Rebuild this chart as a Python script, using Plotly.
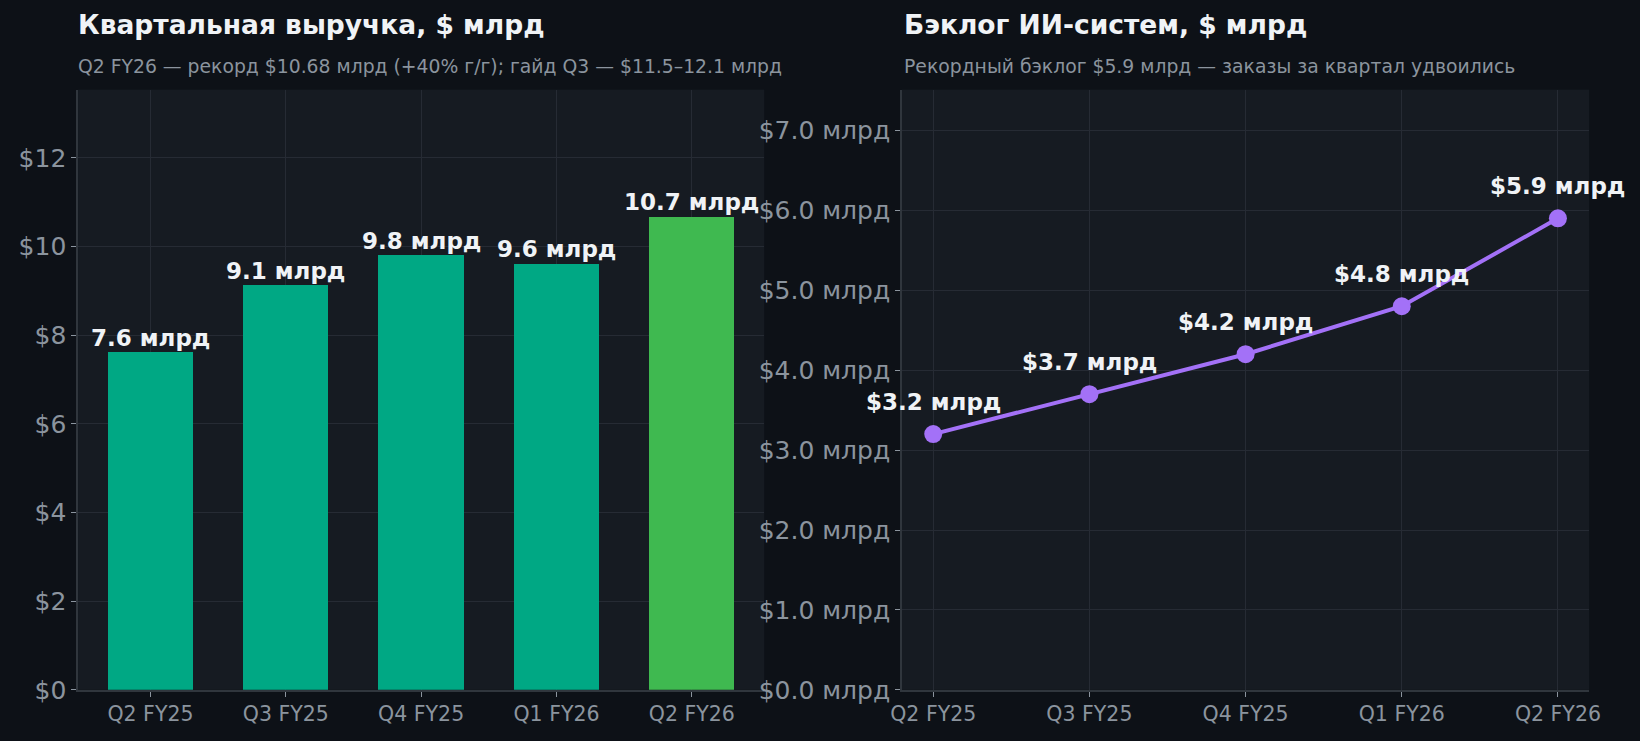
import plotly.graph_objects as go
from plotly.subplots import make_subplots

# data
quarters = ['Q2 FY25', 'Q3 FY25', 'Q4 FY25', 'Q1 FY26', 'Q2 FY26']
revenue = [7.62, 9.13, 9.81, 9.62, 10.68]
backlog = [3.2, 3.7, 4.2, 4.8, 5.9]
rev_ticks = [0, 2, 4, 6, 8, 10, 12]
backlog_ticks = [0, 1, 2, 3, 4, 5, 6, 7]

BG = '#0d1117'
PLOT_BG = '#161b22'
GRID = '#262b34'
SPINE = '#30363d'
MUTED = '#8b949e'
WHITE = '#f0f3f6'
FONT = 'DejaVu Sans'

bar_colors = ['#00a884'] * (len(quarters) - 1) + ['#3fb950']

fig = make_subplots(rows=1, cols=2, horizontal_spacing=0.08)

fig.add_trace(go.Bar(
    x=list(range(len(quarters))), y=revenue, width=0.63,
    marker=dict(color=bar_colors, line_width=0),
    showlegend=False, hoverinfo='skip'), row=1, col=1)

fig.add_trace(go.Scatter(
    x=list(range(len(quarters))), y=backlog, mode='lines+markers',
    line=dict(color='#a371f7', width=4),
    marker=dict(color='#a371f7', size=18),
    showlegend=False, hoverinfo='skip', cliponaxis=False), row=1, col=2)

# value labels
for i, v in enumerate(revenue):
    fig.add_annotation(x=i, y=v, xref='x', yref='y', text=f'<b>{v:.1f} млрд</b>',
                       showarrow=False, yanchor='bottom', yshift=-1,
                       font=dict(family=FONT, size=23, color=WHITE))
for i, v in enumerate(backlog):
    fig.add_annotation(x=i, y=v, xref='x2', yref='y2', text=f'<b>${v:.1f} млрд</b>',
                       showarrow=False, yanchor='bottom', yshift=17,
                       font=dict(family=FONT, size=23, color=WHITE))

# titles
titles = [
    (0.0476, 'Квартальная выручка, $ млрд',
     'Q2 FY26 — рекорд $10.68 млрд (+40% г/г); гайд Q3 — $11.5–12.1 млрд'),
    (0.551, 'Бэклог ИИ-систем, $ млрд',
     'Рекордный бэклог $5.9 млрд — заказы за квартал удвоились'),
]
for x0, t, s in titles:
    fig.add_annotation(x=x0, y=1 - 25 / 741, xref='paper', yref='paper', text=f'<b>{t}</b>',
                       showarrow=False, xanchor='left', yanchor='middle', xshift=-2,
                       font=dict(family=FONT, size=26.5, color=WHITE))
    fig.add_annotation(x=x0, y=1 - 67 / 741, xref='paper', yref='paper', text=s,
                       showarrow=False, xanchor='left', yanchor='middle', xshift=-2,
                       font=dict(family=FONT, size=18.8, color=MUTED))

axis_common = dict(showgrid=True, gridcolor=GRID, gridwidth=1, zeroline=False,
                   showline=True, linecolor=SPINE, linewidth=1.5, automargin=False,
                   ticks='outside', ticklen=5, tickcolor=MUTED,
                   tickfont=dict(family=FONT, color=MUTED))

fig.update_xaxes(**axis_common)
fig.update_yaxes(**axis_common)

fig.update_xaxes(domain=[0.0476, 0.466], range=[-0.535, len(quarters) - 0.465],
                 tickvals=list(range(len(quarters))), ticktext=quarters,
                 tickfont_size=20.5, row=1, col=1)
fig.update_xaxes(domain=[0.55, 0.969], range=[-0.2, len(quarters) - 0.8],
                 tickvals=list(range(len(quarters))), ticktext=quarters,
                 tickfont_size=20.5, row=1, col=2)
fig.update_yaxes(domain=[0.069, 0.879], range=[0, 13.54],
                 tickvals=rev_ticks, ticktext=[f'${t}' for t in rev_ticks],
                 tickfont_size=25, row=1, col=1)
fig.update_yaxes(domain=[0.069, 0.879], range=[0, 7.51],
                 tickvals=backlog_ticks, ticktext=[f'${t:.1f} млрд' for t in backlog_ticks],
                 tickfont_size=25, row=1, col=2)

fig.update_layout(
    width=1640, height=741,
    paper_bgcolor=BG, plot_bgcolor=PLOT_BG,
    margin=dict(l=0, r=0, t=0, b=0, autoexpand=False),
    font=dict(family=FONT, color=MUTED),
    bargap=0,
)

fig.write_html('out.html', config={'displayModeBar': False},
               post_script="document.body.style.margin='0';document.body.style.background='#0d1117';")
